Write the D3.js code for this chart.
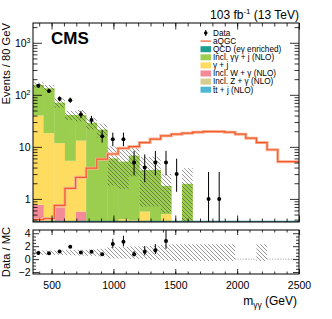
<!DOCTYPE html>
<html>
<head>
<meta charset="utf-8">
<script src="https://cdn.jsdelivr.net/npm/d3@7"></script>
<style>
body { margin: 0; background: #fff; }
svg { display: block; font-family: "Liberation Sans", Arial, Helvetica, sans-serif; }
</style>
</head>
<body>
<svg width="332" height="319"></svg>
<script>
// bin edges in GeV (25 bins)
const binEdges = [350, 436, 522, 608, 694, 780, 866, 952, 1038, 1124, 1210, 1296, 1382, 1468,
  1554, 1640, 1726, 1812, 1898, 1984, 2070, 2156, 2242, 2328, 2414, 2500];

// observed events and their error band (lower / upper)
const dataCounts = [149, 119, 84, 79, 42, 33, 16, 14, 14, 5, 4, 5, 5, 3, 0, 0, 1, 1, 0, 0, 0, 0, 0, 0, 0];
const dataLow  = [137, 108.6, 74.9, 70.2, 35.6, 27.3, 12.1, 10.3, 10.3, 2.84, 2.09, 2.84, 2.84, 1.37, 0, 0, 0.17, 0.17, 0, 0, 0, 0, 0, 0, 0];
const dataHigh = [161, 130.4, 93.2, 88.4, 49.0, 39.3, 21.0, 18.8, 18.8, 8.38, 7.16, 8.38, 8.38, 5.92, 0, 0, 3.3, 3.3, 0, 0, 0, 0, 0, 0, 0];

// simulated backgrounds
const qcdEg   = [0, 0, 0, 0, 0, 0, 0, 0, 0, 0, 0, 0, 0, 0, 0, 0, 0, 0, 0, 0, 0, 0, 0, 0, 0];
const ggJet   = [116, 115.7, 59, 35.6, 27.8, 29, 21.5, 6.0, 4.8, 6.4, 3.0, 3.6, 1.27, 0.02, 1.95, 0.02, 0.02, 0.02, 0.02, 0, 0, 0.02, 0, 0, 0];
const gJet    = [39.2, 18.3, 11.1, 5.4, 12.6, 0, 0, 0, 0.41, 0.39, 0.57, 0, 0.51, 0, 0, 0, 0, 0, 0, 0, 0, 0, 0, 0, 0];
const wGamma  = [0.77, 0, 0.69, 0, 0.57, 0, 0, 0, 0, 0, 0, 0, 0, 0, 0, 0, 0, 0, 0, 0, 0, 0, 0, 0, 0];
const zGamma  = [0, 0, 0, 0, 0, 0, 0, 0, 0, 0, 0, 0, 0, 0, 0, 0, 0, 0, 0, 0, 0, 0, 0, 0, 0];
const ttJet   = [0, 0, 0, 0, 0, 0, 0, 0, 0, 0, 0, 0, 0, 0, 0, 0, 0, 0, 0, 0, 0, 0, 0, 0, 0];

// relative uncertainty on total MC (main panel) and band half-width in the ratio panel
const mcUnc = [0.12, 0.15, 0.2, 0.2, 0.25, 0.25, 0.3, 0.7, 0.7, 0.6, 0.8, 0.8, 0.7, 1, 1, 1, 1, 1, 1, 0, 0, 1, 0, 0, 0];
const ratioUnc = [0.33, 0.33, 0.35, 0.4, 0.45, 0.5, 0.6, 0.9, 0.9, 0.95, 1.0, 1.1, 1.2, 1.3, 1.3, 1.3, 1.3, 1.3, 1.3, 0, 0, 1.3, 0, 0, 0];

// aQGC signal
const aqgc = [0.4, 0.42, 0.75, 1.6, 2.6, 3.9, 5.8, 7.3, 9.4, 10.1, 12.1, 14.1, 16.3, 17.5, 18.3, 19.2, 19.7, 19.7,
  19.2, 17.5, 14.7, 12.1, 8.8, 5.2, 5.2];

const xTicksMajor = [500, 1000, 1500, 2000, 2500];
const yTicksMajor = [1, 10, 100, 1000];
const ratioTicks = [-2, 0, 2, 4];

const colors = {
  qcd: '#1d9e8e', ggj: '#9bcd4f', gj: '#fddc5f', wg: '#f28a98', zg: '#d6ce90', tt: '#4cb8d3', sig: '#f25a2a'
};

const svg = d3.select('svg');
const frame = { left: 33, right: 299, top: 23, bottom: 222 };
const rframe = { top: 230, bottom: 274 };
const yMin = 0.36;

const x = d3.scaleLinear().domain([350, 2500]).range([frame.left, frame.right]);
const y = d3.scaleLog().domain([yMin, 2400]).range([frame.bottom, frame.top]);
const yr = d3.scaleLinear().domain([-2.3, 4.5]).range([rframe.bottom, rframe.top]);

const defs = svg.append('defs');
defs.append('clipPath').attr('id', 'clipMain').append('rect')
  .attr('x', frame.left).attr('y', frame.top)
  .attr('width', frame.right - frame.left).attr('height', frame.bottom - frame.top);
defs.append('clipPath').attr('id', 'clipRatio').append('rect')
  .attr('x', frame.left).attr('y', rframe.top)
  .attr('width', frame.right - frame.left).attr('height', rframe.bottom - rframe.top);
defs.append('pattern').attr('id', 'hatch')
  .attr('patternUnits', 'userSpaceOnUse').attr('width', 4).attr('height', 4)
  .append('path')
  .attr('d', 'M-1,-1 L5,5 M-1,3 L1,5 M3,-1 L5,1')
  .attr('stroke', '#3a3a3a').attr('stroke-width', 0.7).attr('opacity', 0.75);

// stack table, bottom -> top
const keys = ['wg', 'zg', 'tt', 'gj', 'ggj', 'qcd'];
const table = binEdges.slice(0, -1).map((e, i) => ({
  i: i, lo: e, hi: binEdges[i + 1],
  wg: wGamma[i], zg: zGamma[i], tt: ttJet[i], gj: gJet[i], ggj: ggJet[i], qcd: qcdEg[i]
}));
const series = d3.stack().keys(keys)(table);
const mcTotal = table.map(d => keys.reduce((s, k) => s + d[k], 0));

const gMain = svg.append('g').attr('clip-path', 'url(#clipMain)');

series.forEach(s => {
  gMain.append('g').selectAll('rect')
    .data(s.filter(d => d[1] > d[0] && d[1] > yMin))
    .enter().append('rect')
    .attr('x', d => x(d.data.lo))
    .attr('width', d => x(d.data.hi) - x(d.data.lo) + 0.3)
    .attr('y', d => y(d[1]))
    .attr('height', d => y(Math.max(d[0], yMin)) - y(d[1]))
    .attr('fill', colors[s.key]);
});

// MC uncertainty hatch
gMain.append('g').selectAll('rect')
  .data(table.filter(d => mcTotal[d.i] > 0 && mcUnc[d.i] > 0 && mcTotal[d.i] * (1 + mcUnc[d.i]) > yMin))
  .enter().append('rect')
  .attr('x', d => x(d.lo))
  .attr('width', d => x(d.hi) - x(d.lo))
  .attr('y', d => y(mcTotal[d.i] * (1 + mcUnc[d.i])))
  .attr('height', d => y(Math.max(mcTotal[d.i] * (1 - mcUnc[d.i]), yMin)) - y(mcTotal[d.i] * (1 + mcUnc[d.i])))
  .attr('fill', 'url(#hatch)');

// baseline (QCD eγ)
gMain.append('line')
  .attr('x1', frame.left).attr('x2', frame.right)
  .attr('y1', frame.bottom - 0.6).attr('y2', frame.bottom - 0.6)
  .attr('stroke', '#3f8a8c').attr('stroke-width', 1.4);

// aQGC step line
const sigPts = aqgc.map((v, i) => [binEdges[i], v]).concat([[binEdges[binEdges.length - 1], aqgc[aqgc.length - 1]]]);
const stepLine = d3.line().x(d => x(d[0])).y(d => y(Math.max(d[1], yMin))).curve(d3.curveStepAfter);
gMain.append('path').attr('d', stepLine(sigPts))
  .attr('fill', 'none').attr('stroke', '#f9b497').attr('stroke-width', 3);
gMain.append('path').attr('d', stepLine(sigPts))
  .attr('fill', 'none').attr('stroke', colors.sig).attr('stroke-width', 1.2);

// data points
const pts = table.filter(d => dataCounts[d.i] > 0);
const binMid = d => x((d.lo + d.hi) / 2);
gMain.append('g').selectAll('line')
  .data(pts).enter().append('line')
  .attr('x1', binMid).attr('x2', binMid)
  .attr('y1', d => y(dataHigh[d.i]))
  .attr('y2', d => y(Math.max(dataLow[d.i], yMin)))
  .attr('stroke', '#000').attr('stroke-width', 1);
gMain.append('g').selectAll('circle')
  .data(pts).enter().append('circle')
  .attr('cx', binMid).attr('cy', d => y(dataCounts[d.i])).attr('r', 2)
  .attr('fill', '#000');

// ---- ratio panel
const gRatio = svg.append('g').attr('clip-path', 'url(#clipRatio)');
gRatio.append('g').selectAll('rect')
  .data(table.filter(d => mcTotal[d.i] > 0 && ratioUnc[d.i] > 0))
  .enter().append('rect')
  .attr('x', d => x(d.lo))
  .attr('width', d => x(d.hi) - x(d.lo))
  .attr('y', d => yr(1 + ratioUnc[d.i]))
  .attr('height', d => yr(1 - ratioUnc[d.i]) - yr(1 + ratioUnc[d.i]))
  .attr('fill', 'url(#hatch)');
// empty MC bins collapse to a dotted line at zero
gRatio.append('g').selectAll('line')
  .data(table.filter(d => mcTotal[d.i] === 0))
  .enter().append('line')
  .attr('x1', d => x(d.lo)).attr('x2', d => x(d.hi))
  .attr('y1', yr(0)).attr('y2', yr(0))
  .attr('stroke', '#777').attr('stroke-width', 0.7).attr('stroke-dasharray', '1,1.5');

const rpts = table.filter(d => dataCounts[d.i] > 0 && mcTotal[d.i] > 0);
gRatio.append('g').selectAll('line')
  .data(rpts).enter().append('line')
  .attr('x1', binMid).attr('x2', binMid)
  .attr('y1', d => yr(dataHigh[d.i] / mcTotal[d.i]))
  .attr('y2', d => yr(dataLow[d.i] / mcTotal[d.i]))
  .attr('stroke', '#000').attr('stroke-width', 1);
gRatio.append('g').selectAll('circle')
  .data(rpts).enter().append('circle')
  .attr('cx', binMid).attr('cy', d => yr(dataCounts[d.i] / mcTotal[d.i])).attr('r', 2)
  .attr('fill', '#000');

// ---- axes
const minorX = d3.range(400, 2500, 100);
const minorY = [0.4, 0.5, 0.6, 0.7, 0.8, 0.9].concat(
  [2, 3, 4, 5, 6, 7, 8, 9], [20, 30, 40, 50, 60, 70, 80, 90],
  [200, 300, 400, 500, 600, 700, 800, 900], [2000]);

const noLabel = a => a.tickFormat('');
const drawAxis = (axis, tx, ty) => {
  const g = svg.append('g').attr('transform', `translate(${tx},${ty})`).call(axis);
  g.select('.domain').remove();
  g.selectAll('line').attr('stroke', '#000').attr('stroke-width', 0.8);
  return g;
};

// main panel
drawAxis(noLabel(d3.axisBottom(x).tickValues(minorX).tickSize(-3.5)), 0, frame.bottom);
drawAxis(noLabel(d3.axisBottom(x).tickValues(xTicksMajor).tickSize(-6.5)), 0, frame.bottom);
drawAxis(noLabel(d3.axisTop(x).tickValues(minorX).tickSize(-3.5)), 0, frame.top);
drawAxis(noLabel(d3.axisTop(x).tickValues(xTicksMajor).tickSize(-6.5)), 0, frame.top);
drawAxis(noLabel(d3.axisLeft(y).tickValues(minorY).tickSize(-4.5)), frame.left, 0);
drawAxis(noLabel(d3.axisRight(y).tickValues(minorY).tickSize(-4.5)), frame.right, 0);
drawAxis(noLabel(d3.axisRight(y).tickValues(yTicksMajor).tickSize(-9)), frame.right, 0);
const yAx = drawAxis(d3.axisLeft(y).tickValues(yTicksMajor).tickSize(-9).tickPadding(2.5), frame.left, 0);
yAx.selectAll('text')
  .attr('font-size', 10.5).attr('fill', '#000')
  .each(function(d) {
    const t = d3.select(this).text('');
    const p = Math.round(Math.log10(d));
    if (p <= 1) { t.text(String(d)); return; }
    t.append('tspan').text('10');
    t.append('tspan').attr('dy', -4).attr('font-size', 7).text(String(p));
  });

// ratio panel
drawAxis(noLabel(d3.axisBottom(x).tickValues(minorX).tickSize(-2.5)), 0, rframe.bottom);
drawAxis(d3.axisBottom(x).tickValues(xTicksMajor).tickSize(-5).tickPadding(8)
  .tickFormat(d3.format('d')), 0, rframe.bottom)
  .selectAll('text').attr('font-size', 10.5).attr('fill', '#000');
drawAxis(noLabel(d3.axisTop(x).tickValues(minorX).tickSize(-2.5)), 0, rframe.top);
drawAxis(noLabel(d3.axisTop(x).tickValues(xTicksMajor).tickSize(-5)), 0, rframe.top);
const rMinor = [-1.5, -1, -0.5, 0.5, 1, 1.5, 2.5, 3, 3.5];
drawAxis(noLabel(d3.axisLeft(yr).tickValues(rMinor).tickSize(-3)), frame.left, 0);
drawAxis(noLabel(d3.axisRight(yr).tickValues(rMinor).tickSize(-3)), frame.right, 0);
drawAxis(noLabel(d3.axisRight(yr).tickValues(ratioTicks).tickSize(-6)), frame.right, 0);
drawAxis(d3.axisLeft(yr).tickValues(ratioTicks).tickSize(-6).tickPadding(2.5)
  .tickFormat(d => d < 0 ? '\u2212' + Math.abs(d) : d), frame.left, 0)
  .selectAll('text').attr('font-size', 10.5).attr('fill', '#000');

// frames
svg.append('rect').attr('x', frame.left).attr('y', frame.top)
  .attr('width', frame.right - frame.left).attr('height', frame.bottom - frame.top)
  .attr('fill', 'none').attr('stroke', '#000').attr('stroke-width', 1);
svg.append('rect').attr('x', frame.left).attr('y', rframe.top)
  .attr('width', frame.right - frame.left).attr('height', rframe.bottom - rframe.top)
  .attr('fill', 'none').attr('stroke', '#000').attr('stroke-width', 1);

// ---- texts
svg.append('text').attr('x', 51).attr('y', 43.5)
  .attr('font-size', 17).attr('font-weight', 'bold').text('CMS');

const lumi = svg.append('text').attr('x', frame.right).attr('y', 18.5)
  .attr('text-anchor', 'end').attr('font-size', 12);
lumi.append('tspan').text('103 fb');
lumi.append('tspan').attr('dy', -4.5).attr('font-size', 8).text('-1');
lumi.append('tspan').attr('dy', 4.5).text(' (13 TeV)');

svg.append('text')
  .attr('transform', `translate(10,${frame.top}) rotate(-90)`)
  .attr('text-anchor', 'end').attr('font-size', 11.2).text('Events / 80 GeV');
svg.append('text')
  .attr('transform', `translate(10,${(rframe.top + rframe.bottom) / 2}) rotate(-90)`)
  .attr('text-anchor', 'middle').attr('font-size', 11.2).text('Data / MC');

const xt = svg.append('text').attr('x', frame.right - 2).attr('y', 305)
  .attr('text-anchor', 'end').attr('font-size', 12);
xt.append('tspan').text('m');
xt.append('tspan').attr('dy', 3).attr('font-size', 8.5).text('\u03b3\u03b3');
xt.append('tspan').attr('dy', -3).text(' (GeV)');

// ---- legend
const legendItems = [
  { label: 'Data', type: 'data' },
  { label: 'aQGC', type: 'line', color: colors.sig },
  { label: 'QCD (e\u03b3 enriched)', type: 'box', color: colors.qcd },
  { label: 'Incl. \u03b3\u03b3 + j (NLO)', type: 'box', color: colors.ggj },
  { label: '\u03b3 + j', type: 'box', color: colors.gj },
  { label: 'Incl. W + \u03b3 (NLO)', type: 'box', color: colors.wg },
  { label: 'Incl. Z + \u03b3 (NLO)', type: 'box', color: colors.zg },
  { label: 't\u0304t + j (NLO)', type: 'box', color: colors.tt }
];
const lg = svg.append('g').attr('transform', 'translate(200,33)');
const rows = lg.selectAll('g').data(legendItems).enter().append('g')
  .attr('transform', (d, i) => `translate(0,${i * 8.1})`);
rows.filter(d => d.type === 'box').append('rect')
  .attr('x', 0.5).attr('y', -3).attr('width', 10.5).attr('height', 6).attr('fill', d => d.color);
rows.filter(d => d.type === 'line').append('line')
  .attr('x1', 0.5).attr('x2', 11).attr('y1', 0).attr('y2', 0)
  .attr('stroke', d => d.color).attr('stroke-width', 1.2);
rows.filter(d => d.type === 'data').append('circle')
  .attr('cx', 5.75).attr('cy', 0).attr('r', 1.8).attr('fill', '#000');
rows.filter(d => d.type === 'data').append('line')
  .attr('x1', 5.75).attr('x2', 5.75).attr('y1', -3).attr('y2', 3).attr('stroke', '#000');
rows.append('text').attr('x', 13).attr('y', 2.8).attr('font-size', 8.2).text(d => d.label);
</script>
</body>
</html>
